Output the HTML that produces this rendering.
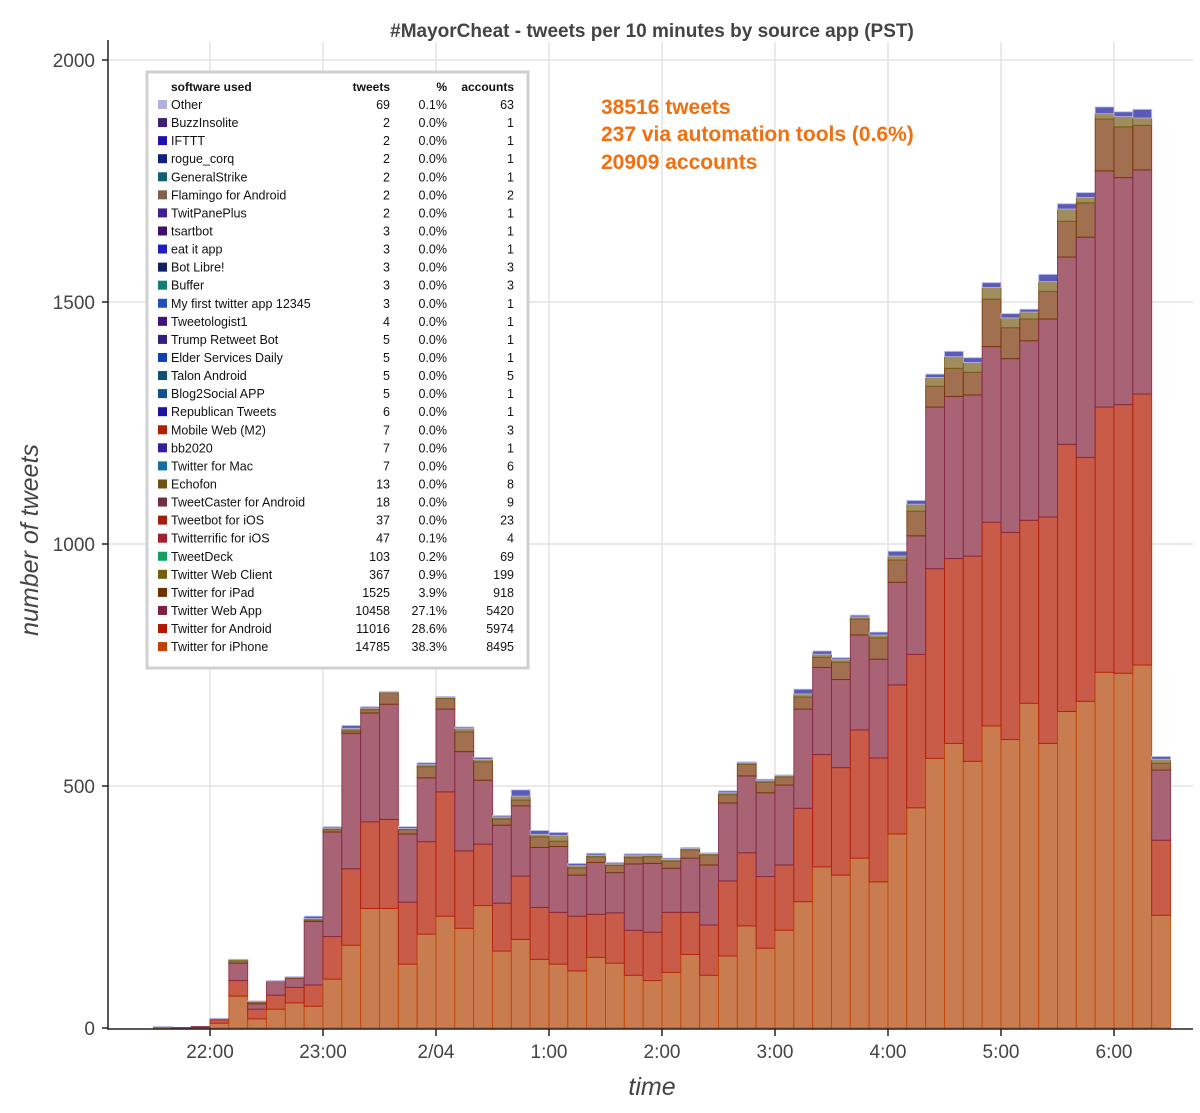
<!DOCTYPE html>
<html>
<head>
<meta charset="utf-8">
<style>
  html, body { margin: 0; padding: 0; background: #fff; }
  body { width: 1200px; height: 1108px; overflow: hidden; font-family: "Liberation Sans", sans-serif; }
  svg text { font-family: "Liberation Sans", sans-serif; }
</style>
</head>
<body>
<svg id="chart" width="1200" height="1108" viewBox="0 0 1200 1108" xmlns="http://www.w3.org/2000/svg">
  <rect x="0" y="0" width="1200" height="1108" fill="#fff"/>
  <text x="652" y="37" text-anchor="middle" font-size="19" font-weight="bold" fill="#444">#MayorCheat - tweets per 10 minutes by source app (PST)</text>
  <g id="grid"></g>
  <g id="bars"></g>
  <g id="axes"></g>
  <text x="652" y="1095" text-anchor="middle" font-size="25" font-style="italic" fill="#444">time</text>
  <text transform="translate(38,540) rotate(-90)" text-anchor="middle" font-size="25" font-style="italic" fill="#444">number of tweets</text>
  <g font-size="21" font-weight="bold" fill="#f07010">
    <text x="601" y="114">38516 tweets</text>
    <text x="601" y="141">237 via automation tools (0.6%)</text>
    <text x="601" y="169">20909 accounts</text>
  </g>
  <g id="legend"></g>
</svg>
<script>
// ---- chart data ----
const categories = ["21:30","21:40","21:50","22:00","22:10","22:20","22:30","22:40","22:50","23:00","23:10","23:20","23:30","23:40","23:50","0:00","0:10","0:20","0:30","0:40","0:50","1:00","1:10","1:20","1:30","1:40","1:50","2:00","2:10","2:20","2:30","2:40","2:50","3:00","3:10","3:20","3:30","3:40","3:50","4:00","4:10","4:20","4:30","4:40","4:50","5:00","5:10","5:20","5:30","5:40","5:50","6:00","6:10","6:20"];
const iphone    = [1,0,1,10,66,19,39,52,45,101,171,247,247,132,194,231,206,253,159,183,142,132,118,146,134,109,98,115,152,109,149,211,165,202,261,333,316,351,302,401,455,557,588,551,624,596,671,588,654,675,735,733,750,233];
const android   = [0,0,1,7,32,20,29,32,44,88,158,179,184,128,191,257,160,127,99,131,107,107,113,89,104,93,100,124,87,104,155,151,148,135,193,232,222,265,256,308,317,392,382,424,421,428,378,468,552,504,548,555,560,155];
const webApp    = [1,1,1,2,36,11,28,19,131,216,280,225,238,141,132,171,205,132,161,145,124,136,85,107,83,137,142,91,112,124,161,159,173,165,205,180,182,196,204,212,245,334,335,333,363,359,371,409,387,455,488,469,463,145];
const ipad      = [0,0,0,0,5,4,0,1,3,5,5,7,24,9,23,22,41,38,13,12,22,11,15,12,15,13,14,15,17,21,17,24,22,17,25,21,36,33,44,46,51,43,58,47,98,64,45,57,74,71,107,105,92,14];
const webClient = [0,0,0,0,2,1,1,1,3,3,5,3,1,2,4,2,7,5,4,8,5,12,4,3,3,5,3,3,3,2,4,3,3,2,6,6,5,4,6,8,14,18,24,20,24,20,14,20,25,11,11,21,15,8];
const misc      = [1,0,0,1,1,1,1,1,5,3,6,3,1,4,4,2,3,4,3,13,8,6,5,4,3,3,3,3,2,2,4,2,3,2,10,7,4,4,6,10,8,7,11,10,10,9,6,15,11,10,14,10,18,6];
const yTickValues = [0,500,1000,1500,2000];
const xTickLabels = ["22:00","23:00","2/04","1:00","2:00","3:00","4:00","5:00","6:00"];
const xTickMinutes = [30,90,150,210,270,330,390,450,510];

// legend table data
const legendNames = ["Other","BuzzInsolite","IFTTT","rogue_corq","GeneralStrike","Flamingo for Android","TwitPanePlus","tsartbot","eat it app","Bot Libre!","Buffer","My first twitter app 12345","Tweetologist1","Trump Retweet Bot","Elder Services Daily","Talon Android","Blog2Social APP","Republican Tweets","Mobile Web (M2)","bb2020","Twitter for Mac","Echofon","TweetCaster for Android","Tweetbot for iOS","Twitterrific for iOS","TweetDeck","Twitter Web Client","Twitter for iPad","Twitter Web App","Twitter for Android","Twitter for iPhone"];
const legendTweets = ["69","2","2","2","2","2","2","3","3","3","3","3","4","5","5","5","5","6","7","7","7","13","18","37","47","103","367","1525","10458","11016","14785"];
const legendPct = ["0.1%","0.0%","0.0%","0.0%","0.0%","0.0%","0.0%","0.0%","0.0%","0.0%","0.0%","0.0%","0.0%","0.0%","0.0%","0.0%","0.0%","0.0%","0.0%","0.0%","0.0%","0.0%","0.0%","0.0%","0.1%","0.2%","0.9%","3.9%","27.1%","28.6%","38.3%"];
const legendAccounts = ["63","1","1","1","1","2","1","1","1","3","3","1","1","1","1","5","1","1","3","1","6","8","9","23","4","69","199","918","5420","5974","8495"];
const legendColors = ["#b0b0dc","#402070","#2010b0","#102080","#106070","#806048","#402090","#401070","#2020c0","#102060","#108070","#2050c0","#401080","#302080","#1040b0","#105070","#105090","#2010a0","#b02000","#3020a0","#1070a0","#705010","#703040","#a02010","#a02030","#10a060","#706010","#703000","#802040","#b01800","#c04000"];

// ---- scales ----
const NS = "http://www.w3.org/2000/svg";
const X0 = 153.5, PX_PER_MIN = 113 / 60, BAR_MIN = 10;
const Y0 = 1028, PX_PER_TWEET = 0.484;
function xScale(min) { return X0 + min * PX_PER_MIN; }
function yScale(v) { return Y0 - v * PX_PER_TWEET; }
function mk(tag, attrs, parent) {
  const e = document.createElementNS(NS, tag);
  for (const k in attrs) e.setAttribute(k, attrs[k]);
  parent.appendChild(e);
  return e;
}

// grid
const grid = document.getElementById("grid");
xTickMinutes.forEach((m) => {
  const l = mk("line", {x1: xScale(m), x2: xScale(m), y1: 42, y2: Y0, stroke: "#e3e3e3", "stroke-width": 1.5}, grid);
  
  
});
yTickValues.forEach((v) => {
  if (v === 0) return;
  const l = mk("line", {x1: 108, x2: 1193, y1: yScale(v), y2: yScale(v), stroke: "#e3e3e3", "stroke-width": 1.5}, grid);
  
  
});

// bars
const seriesList = [
  {name: "iphone", vals: iphone, fill: "#c97c50", stroke: "#c04000"},
  {name: "android", vals: android, fill: "#c95c48", stroke: "#b01800"},
  {name: "webapp", vals: webApp, fill: "#a86474", stroke: "#802040"},
  {name: "ipad", vals: ipad, fill: "#a07050", stroke: "#703000"},
  {name: "webclient", vals: webClient, fill: "#a08c5c", stroke: "#706010"},
  {name: "misc", vals: misc, fill: "#5a5ab8", stroke: "#c0c0e8"}
];
const barsG = document.getElementById("bars");
categories.forEach((cat, i) => {
  let cum = 0;
  const x = xScale(i * BAR_MIN);
  const w = BAR_MIN * PX_PER_MIN;
  seriesList.forEach((s) => {
    const v = s.vals[i];
    if (v <= 0) return;
    const r = mk("rect", {x: x, y: yScale(cum + v), width: w, height: v * PX_PER_TWEET, fill: s.fill, stroke: s.stroke, "stroke-width": 1, "stroke-opacity": 0.8}, barsG);
    
    
    cum += v;
  });
});

// axes
const axes = document.getElementById("axes");
const yAxis = mk("line", {x1: 108, x2: 108, y1: 40, y2: Y0 + 1, stroke: "#222", "stroke-width": 1.5}, axes);


const xAxis = mk("line", {x1: 107, x2: 1193, y1: Y0 + 1, y2: Y0 + 1, stroke: "#222", "stroke-width": 1.5}, axes);


yTickValues.forEach((v) => {
  const t = mk("line", {x1: 102, x2: 108, y1: yScale(v), y2: yScale(v), stroke: "#222", "stroke-width": 1.5}, axes);
  
  
  const lb = mk("text", {x: 95, y: yScale(v) + 7, "text-anchor": "end", "font-size": 19, fill: "#444"}, axes);
  lb.textContent = String(v);
  
  
});
xTickLabels.forEach((lab, i) => {
  const xx = xScale(xTickMinutes[i]);
  const t = mk("line", {x1: xx, x2: xx, y1: Y0 + 1, y2: Y0 + 8, stroke: "#222", "stroke-width": 1.5}, axes);
  
  
  const lb = mk("text", {x: xx, y: 1058, "text-anchor": "middle", "font-size": 19, fill: "#444"}, axes);
  lb.textContent = lab;
  
  
});

// legend
const lg = document.getElementById("legend");
const box = mk("rect", {x: 147, y: 72, width: 381, height: 596, fill: "#fff", stroke: "#d0d0d0", "stroke-width": 3}, lg);


const hdr = [["software used", 171, "start"], ["tweets", 390, "end"], ["%", 447, "end"], ["accounts", 514, "end"]];
hdr.forEach((h) => {
  const t = mk("text", {x: h[1], y: 91, "text-anchor": h[2], "font-size": 12, "font-weight": "bold", fill: "#111"}, lg);
  t.textContent = h[0];
  
  
});
legendNames.forEach((nm, i) => {
  const yy = 109 + i * 18.07;
  const g = mk("g", {}, lg);
  
  
  mk("rect", {x: 158, y: yy - 9, width: 9, height: 9, fill: legendColors[i]}, g);
  const cols = [[nm, 171, "start"], [legendTweets[i], 390, "end"], [legendPct[i], 447, "end"], [legendAccounts[i], 514, "end"]];
  cols.forEach((c) => {
    const t = mk("text", {x: c[1], y: yy, "text-anchor": c[2], "font-size": 12.5, fill: "#111"}, g);
    t.textContent = c[0];
  });
});
</script>
</body>
</html>
